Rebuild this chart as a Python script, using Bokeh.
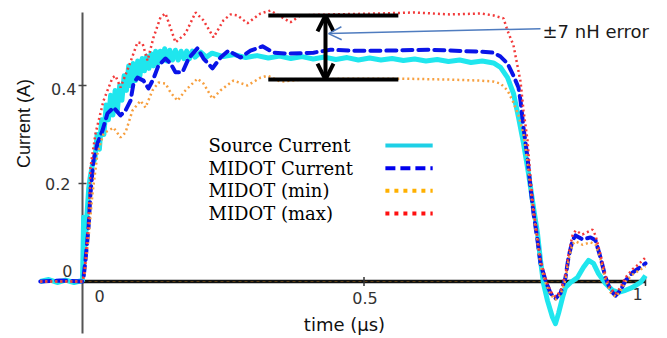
import math
from bokeh.plotting import figure
from bokeh.models import Arrow, OpenHead
from bokeh.core.properties import value
from bokeh.embed import file_html
from bokeh.resources import INLINE

# ---------------- data (time in µs, current in A) ----------------
src_t = [-0.075, -0.06, -0.045, -0.03, -0.015, 0.0, 0.002, 0.004, 0.007, 0.011, 0.014, 0.018, 0.022,
         0.026, 0.030, 0.034, 0.038, 0.042, 0.046, 0.050, 0.054, 0.058, 0.062, 0.066, 0.070, 0.074,
         0.078, 0.082, 0.086, 0.090, 0.094, 0.098, 0.102, 0.106, 0.110, 0.114, 0.118, 0.122, 0.126,
         0.130, 0.134, 0.138, 0.142, 0.146, 0.150,
         0.155, 0.160, 0.165, 0.170, 0.175, 0.180, 0.185, 0.190, 0.195, 0.200,
         0.210, 0.220, 0.230,
         0.25, 0.27, 0.29, 0.31, 0.33, 0.35, 0.37, 0.39, 0.41, 0.43, 0.45, 0.47, 0.49, 0.51, 0.53,
         0.55, 0.57, 0.59, 0.61, 0.63, 0.65, 0.67, 0.69, 0.71, 0.73,
         0.7425, 0.755, 0.7655, 0.7744, 0.7833, 0.7922, 0.8011, 0.8082, 0.8135, 0.8188, 0.8259,
         0.8348, 0.8401, 0.8455, 0.8526, 0.8579, 0.8668, 0.8792, 0.8899, 0.8988, 0.9076, 0.9165,
         0.929, 0.9414, 0.952, 0.9645, 0.9769, 0.9911, 1.0]
src_i = [0.0, 0.004, -0.002, 0.003, -0.002, 0.002, 0.131, 0.07, 0.12, 0.19, 0.215, 0.24, 0.25,
         0.30, 0.27, 0.33, 0.30, 0.36, 0.33, 0.38, 0.34, 0.39, 0.35, 0.40, 0.37, 0.42,
         0.39, 0.44, 0.40, 0.445, 0.41, 0.45, 0.42, 0.455, 0.43, 0.46, 0.435, 0.465, 0.44,
         0.47, 0.445, 0.47, 0.45, 0.475, 0.45,
         0.472, 0.452, 0.472, 0.452, 0.47, 0.455, 0.47, 0.455, 0.47, 0.458,
         0.468, 0.458, 0.466,
         0.459, 0.463, 0.457, 0.461, 0.456, 0.460, 0.455, 0.459, 0.454, 0.458, 0.453, 0.457, 0.452,
         0.456, 0.452, 0.455, 0.451, 0.454, 0.450, 0.453, 0.449, 0.452, 0.447, 0.450, 0.446,
         0.437, 0.416, 0.384, 0.335, 0.282, 0.220, 0.151, 0.098, 0.043, -0.004, -0.039,
         -0.073, -0.086, -0.065, -0.033, -0.012, -0.002, 0.008, 0.029, 0.043, 0.037, 0.016,
         -0.004, -0.018, -0.022, -0.018, -0.012, -0.002, 0.012]

mid_t = [-0.075, -0.04, 0.0, 0.0018, 0.0053, 0.0107, 0.0142, 0.0195, 0.0266, 0.0355, 0.0444, 0.0551,
         0.0675, 0.0764, 0.0853, 0.0906, 0.0977, 0.1083, 0.1172, 0.1261, 0.1350, 0.1474, 0.1563,
         0.1652, 0.1776, 0.1883, 0.2043, 0.2149, 0.2309, 0.2451, 0.2593, 0.2806, 0.2984, 0.3197,
         0.3393, 0.3641, 0.4103, 0.4405, 0.4813, 0.5293, 0.6181, 0.7069, 0.7300, 0.7425, 0.7549,
         0.7655, 0.7744, 0.7780, 0.7833, 0.7904, 0.7957, 0.8011, 0.8082, 0.8135, 0.8224, 0.8313,
         0.8401, 0.8490, 0.8579, 0.8632, 0.8703, 0.8757, 0.8881, 0.9023, 0.9112, 0.9201, 0.9290,
         0.9378, 0.9467, 0.9556, 0.9645, 0.9769, 0.9876, 1.0]
mid_i = [0.0, 0.002, 0.0, 0.008, 0.043, 0.110, 0.180, 0.247, 0.282, 0.308, 0.343, 0.355,
         0.339, 0.349, 0.369, 0.404, 0.416, 0.410, 0.394, 0.414, 0.441, 0.455, 0.445,
         0.427, 0.427, 0.455, 0.476, 0.455, 0.435, 0.457, 0.471, 0.457, 0.471, 0.480,
         0.467, 0.465, 0.467, 0.473, 0.471, 0.471, 0.473, 0.469, 0.467, 0.459, 0.445,
         0.420, 0.396, 0.369, 0.314, 0.253, 0.192, 0.139, 0.084, 0.037, 0.002, -0.024,
         -0.035, -0.024, 0.008, 0.049, 0.084, 0.094, 0.086, 0.090, 0.084, 0.049, 0.008,
         -0.018, -0.029, -0.018, 0.002, 0.018, 0.027, 0.037]

max_t = [-0.075, 0.0, 0.0036, 0.0107, 0.0142, 0.0231, 0.0373, 0.0533, 0.0586, 0.0675, 0.0817, 0.0977,
         0.1066, 0.1155, 0.1261, 0.1385, 0.1474, 0.1563, 0.1652, 0.1829, 0.2007, 0.2149, 0.2327,
         0.2504, 0.2629, 0.2753, 0.2931, 0.3162, 0.3339, 0.3694, 0.3872, 0.4405, 0.5293, 0.5879,
         0.6536, 0.7069, 0.7300, 0.7478, 0.7549, 0.7655, 0.7780, 0.7833, 0.7904, 0.7957, 0.8011,
         0.8082, 0.8135, 0.8224, 0.8313, 0.8401, 0.8490, 0.8579, 0.8632, 0.8703, 0.8757, 0.8881,
         0.9059, 0.9112, 0.9201, 0.9290, 0.9378, 0.9467, 0.9556, 0.9645, 0.9769, 0.9876, 1.0]
max_i = [0.0, 0.0, 0.022, 0.120, 0.233, 0.302, 0.369, 0.416, 0.420, 0.396, 0.437, 0.488,
         0.486, 0.451, 0.498, 0.539, 0.547, 0.518, 0.488, 0.506, 0.549, 0.533, 0.498,
         0.533, 0.545, 0.543, 0.527, 0.547, 0.553, 0.529, 0.543, 0.545, 0.547, 0.549,
         0.545, 0.547, 0.543, 0.537, 0.512, 0.482, 0.408, 0.349, 0.288, 0.210, 0.150,
         0.090, 0.045, 0.006, -0.020, -0.031, -0.020, 0.014, 0.055, 0.094, 0.104, 0.096,
         0.106, 0.094, 0.055, 0.012, -0.014, -0.025, -0.012, 0.008, 0.025, 0.035, 0.049]

min_t = [-0.075, 0.0, 0.0036, 0.0107, 0.0178, 0.0266, 0.0373, 0.0551, 0.0675, 0.0764, 0.0888, 0.1030,
         0.1119, 0.1243, 0.1350, 0.1474, 0.1563, 0.1687, 0.1829, 0.2043, 0.2149, 0.2309, 0.2451,
         0.2682, 0.2931, 0.3162, 0.3286, 0.3517, 0.3872, 0.4760, 0.5648, 0.6536, 0.7069, 0.7300,
         0.7425, 0.7549, 0.7655, 0.7744, 0.7833, 0.7904, 0.7957, 0.8011, 0.8082, 0.8135, 0.8224,
         0.8313, 0.8401, 0.8490, 0.8579, 0.8632, 0.8703, 0.8757, 0.8881, 0.9023, 0.9112, 0.9201,
         0.9290, 0.9378, 0.9467, 0.9556, 0.9645, 0.9769, 0.9876, 1.0]
min_i = [0.0, 0.0, 0.014, 0.090, 0.180, 0.261, 0.302, 0.314, 0.294, 0.304, 0.349, 0.369,
         0.355, 0.390, 0.406, 0.404, 0.386, 0.369, 0.390, 0.414, 0.404, 0.373, 0.390,
         0.410, 0.400, 0.416, 0.420, 0.408, 0.412, 0.414, 0.414, 0.412, 0.410, 0.408,
         0.404, 0.390, 0.365, 0.339, 0.300, 0.245, 0.190, 0.135, 0.080, 0.033, -0.002,
         -0.027, -0.037, -0.027, 0.004, 0.043, 0.076, 0.082, 0.075, 0.080, 0.076, 0.045,
         0.004, -0.022, -0.031, -0.020, 0.000, 0.014, 0.022, 0.031]

series_names = ["Source Current", "MIDOT Current", "MIDOT (min)", "MIDOT (max)"]
x_ticks = [0.5, 1.0]
x_tick_labels = ["0", "0.5", "1"]
x_tick_label_pos = [0.0, 0.5, 1.0]
y_ticks = [0.2, 0.4]
y_tick_labels = ["0", "0.2", "0.4"]
y_tick_label_pos = [0.0, 0.2, 0.4]
error_band = [0.412, 0.543]          # ±7 nH error band (A)
error_band_t = [0.33, 0.561]
error_label = "±7 nH error"

# ---------------- figure ----------------
W, H = 667, 338
X0, X1 = -82 / 563, (W - 82) / 563
Y0, Y1 = (281 - H) / 490, 281 / 490
p = figure(width=W, height=H, x_range=(X0, X1), y_range=(Y0, Y1),
           output_backend="svg", toolbar_location=None,
           x_axis_type=None, y_axis_type=None, min_border=0)
p.outline_line_color = None
p.background_fill_color = "white"
p.border_fill_color = "white"

SANS = value("DejaVu Sans")
SERIF = value("DejaVu Serif")
ppx = (X1 - X0) / W       # data units per pixel (x)
ppy = (Y1 - Y0) / H       # data units per pixel (y)

# axes (drawn inside the frame, crossing at the origin)
p.line(x=[0, 0], y=[-0.106, 0.549], line_color="#555555", line_width=2)
p.line(x=[0, 1], y=[0, 0], line_color="#111111", line_width=3.5)
p.line(x=[0, 1], y=[0, 0], line_color="#5a3c12", line_width=1, line_dash="3 3")
p.scatter(x=[0] * len(y_ticks), y=y_ticks, marker="dash", size=8,
          line_color="#444444", line_width=1.5)
p.scatter(x=x_ticks, y=[0] * len(x_ticks), marker="dash", angle=math.pi / 2, size=9,
          line_color="#333333", line_width=1.5)

# tick labels
p.text(x=[x + dx * ppx for x, dx in zip(x_tick_label_pos, [17, 1, -8])],
       y=[-dy * ppy for dy in [14, 16, 12]],
       text=x_tick_labels, text_font=SANS, text_font_size="16px", text_color="#333333",
       text_align="center", text_baseline="middle")
p.text(x=[-dx * ppx for dx in [10, 12, 6]],
       y=[v + dy * ppy for v, dy in zip(y_tick_label_pos, [11, 0, -3])],
       text=y_tick_labels, text_font=SANS, text_font_size="16px", text_color="#333333",
       text_align="right", text_baseline="middle")

# axis titles
p.text(x=[-59 * ppx], y=[158 * ppy], text=["Current (A)"], angle=math.pi / 2,
       text_font=value("Liberation Sans"), text_font_size="18px", text_color="#111111",
       text_align="center", text_baseline="middle")
p.text(x=[262 * ppx], y=[-43 * ppy], text=["time (µs)"],
       text_font=SANS, text_font_size="18px", text_color="#111111",
       text_align="center", text_baseline="middle")

# data curves
c_src, c_mid, c_min, c_max = "#1fe6ee", "#0a14e8", "#f7a040", "#f23a3a"
p.line(src_t, src_i, line_color=c_src, line_width=5, line_join="round")
p.line(mid_t, mid_i, line_color=c_mid, line_width=4, line_dash="10 6", line_cap="round",
       line_join="round")
p.line(min_t, min_i, line_color=c_min, line_width=2.5, line_dash="2 3")
p.line(max_t, max_i, line_color=c_max, line_width=2.5, line_dash="2 3")

# error band annotation
p.segment(x0=[error_band_t[0]] * 2, y0=error_band, x1=[error_band_t[1]] * 2, y1=error_band,
          line_color="black", line_width=4)
arrow_t = 0.4316
p.add_layout(Arrow(start=OpenHead(size=16, line_width=4, line_color="black"),
                   end=OpenHead(size=16, line_width=4, line_color="black"),
                   x_start=arrow_t, y_start=error_band[0], x_end=arrow_t, y_end=error_band[1],
                   line_width=4, line_color="black"))
p.add_layout(Arrow(end=OpenHead(size=13, line_width=1.5, line_color="#4f7cbf"),
                   x_start=0.8135, y_start=0.516, x_end=0.437, y_end=0.506,
                   line_width=1.5, line_color="#4f7cbf"))
p.text(x=[0.817], y=[0.510], text=[error_label], text_font=SANS, text_font_size="18px",
       text_color="#1a1a1a", text_align="left", text_baseline="middle")

# legend (label left, sample right)
leg_x, leg_y0, leg_dy = 0.2238, 0.2776, 0.0463
leg_y = [leg_y0 - k * leg_dy for k in range(4)]
p.text(x=[leg_x] * 4, y=leg_y, text=series_names, text_font=SERIF, text_font_size="18px",
       text_color="black", text_align="left", text_baseline="middle")
s0, s1 = 0.538, 0.622
p.line([s0, s1], [leg_y[0]] * 2, line_color="#1ed0e6", line_width=4)
p.line([s0, s1], [leg_y[1]] * 2, line_color="#0000ee", line_width=4, line_dash="10 5")
p.line([s0, s1], [leg_y[2]] * 2, line_color="#ffb000", line_width=4, line_dash="4 5")
p.line([s0, s1], [leg_y[3]] * 2, line_color="#ff1010", line_width=4, line_dash="4 5")

open("out.html", "w").write(file_html(p, INLINE))
